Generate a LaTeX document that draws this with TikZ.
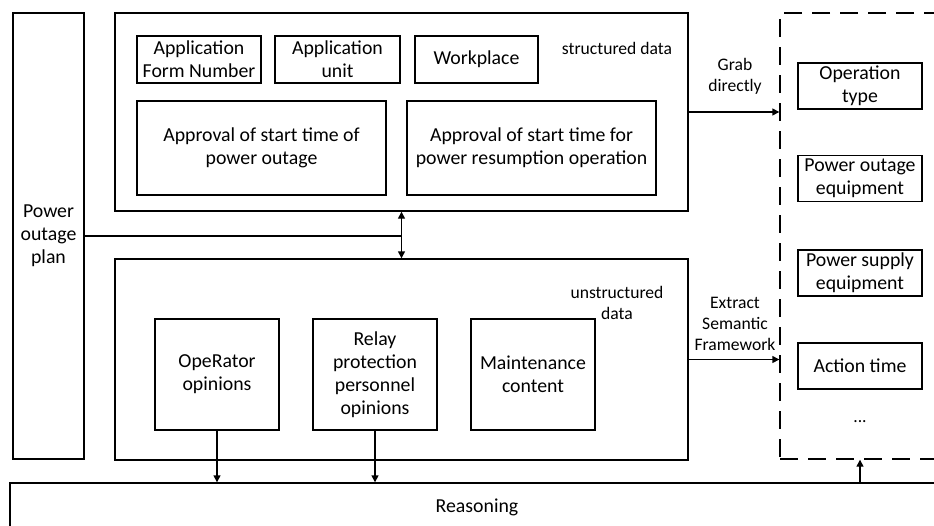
\documentclass[tikz,border=0pt]{standalone}
\usepackage{fontspec}
\setmainfont{Carlito}
\usetikzlibrary{arrows.meta,calc}
\begin{document}
\begin{tikzpicture}[x=1pt,y=-1pt,
  box/.style={draw,line width=1.4pt,align=center,inner sep=2pt,font=\fontsize{19.8}{23}\selectfont},
  lbl/.style={align=center,inner sep=0pt,font=\fontsize{17.6}{21}\selectfont},
  conn/.style={line width=1.4pt},
  arr/.style={conn,-{Triangle[length=7pt,width=7pt]}},
  darr/.style={conn,{Triangle[length=7pt,width=7pt]}-{Triangle[length=7pt,width=7pt]}}]
\useasboundingbox (0,0) rectangle (934,525);
\clip (0,0) rectangle (934,525);
\fill[white] (0,0) rectangle (934,525);
% left
\node[box,minimum width=71pt,minimum height=446pt] (plan) at (48.5,236) {Power\\outage\\plan};
% structured
\node[box,minimum width=573pt,minimum height=198pt] (str) at (401.5,112) {};
\node[box,minimum width=124pt,minimum height=47pt] (afn) at (199,59.5) {Application\\Form Number};
\node[box,minimum width=125pt,minimum height=47pt] (unit) at (337.5,59.5) {Application\\unit};
\node[box,minimum width=123pt,minimum height=47pt] (work) at (476.5,59.5) {Workplace};
\node[box,minimum width=249pt,minimum height=94pt] (ap1) at (261.5,148) {Approval of start time of\\power outage};
\node[box,minimum width=249pt,minimum height=94pt] (ap2) at (531.5,148) {Approval of start time for\\power resumption operation};
\node[lbl] (sd) at (617,48) {structured data};
% unstructured
\node[box,minimum width=573pt,minimum height=201pt] (uns) at (401.5,359.5) {};
\node[box,minimum width=124pt,minimum height=111pt] (op) at (217,374.5) {OpeRator\\opinions};
\node[box,minimum width=124pt,minimum height=111pt] (relay) at (375,374.5) {Relay\\protection\\personnel\\opinions};
\node[box,minimum width=124pt,minimum height=111pt] (maint) at (533,374.5) {Maintenance\\content};
\node[lbl] (ud) at (617,303) {unstructured\\data};
% reasoning
\node[box,minimum width=934pt,minimum height=48pt] (rea) at (477,507) {Reasoning};
% dashed frame
\node[draw,line width=1.4pt,dash pattern=on 18pt off 10pt,minimum width=180pt,minimum height=446pt] (frame) at (870,236) {};
\node[box,minimum width=124pt,minimum height=46pt] (ot) at (860,86) {Operation\\type};
\node[box,minimum width=124pt,minimum height=46pt] (poe) at (860,178.5) {Power outage\\equipment};
\node[box,minimum width=124pt,minimum height=46pt] (pse) at (860,273) {Power supply\\equipment};
\node[box,minimum width=124pt,minimum height=46pt] (act) at (860,366) {Action time};
\node[lbl] (dots) at (860,422) {...};
% labels
\node[lbl] (grab) at (735,76) {Grab\\directly};
\node[lbl] (ext) at (735,324) {Extract\\Semantic\\Framework};
% connectors
\draw[conn] (plan.east) -- (plan.east -| str.south);
\draw[darr] (str.south) -- (uns.north);
\draw[arr] (str.east) -- (str.east -| frame.west);
\draw[arr] (uns.east) -- (uns.east -| frame.west);
\draw[arr] (op.south) -- (op.south |- rea.north);
\draw[arr] (relay.south) -- (relay.south |- rea.north);
\draw[arr] (act.south |- rea.north) -- (act.south |- frame.south);
\end{tikzpicture}
\end{document}
